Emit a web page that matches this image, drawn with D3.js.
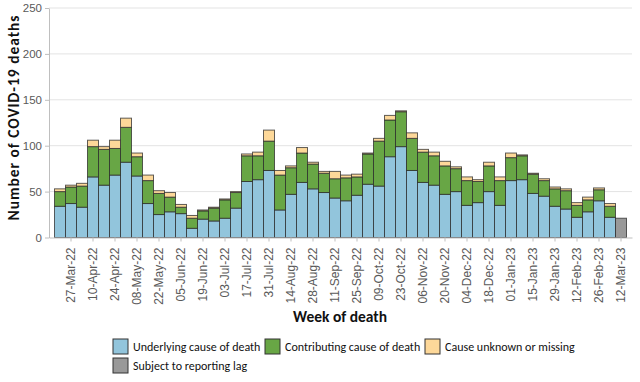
<!DOCTYPE html>
<html>
<head>
<meta charset="utf-8">
<script src="https://d3js.org/d3.v7.min.js"></script>
<style>
  body { margin: 0; background: #fff; }
  svg { font-family: Carlito, Calibri, Lato, sans-serif; }
</style>
</head>
<body>
<svg id="chart" width="640" height="382"></svg>
<script>
var weeks = ["20-Mar-22","27-Mar-22","03-Apr-22","10-Apr-22","17-Apr-22","24-Apr-22","01-May-22","08-May-22",
  "15-May-22","22-May-22","29-May-22","05-Jun-22","12-Jun-22","19-Jun-22","26-Jun-22","03-Jul-22","10-Jul-22",
  "17-Jul-22","24-Jul-22","31-Jul-22","07-Aug-22","14-Aug-22","21-Aug-22","28-Aug-22","04-Sep-22","11-Sep-22",
  "18-Sep-22","25-Sep-22","02-Oct-22","09-Oct-22","16-Oct-22","23-Oct-22","30-Oct-22","06-Nov-22","13-Nov-22",
  "20-Nov-22","27-Nov-22","04-Dec-22","11-Dec-22","18-Dec-22","25-Dec-22","01-Jan-23","08-Jan-23","15-Jan-23",
  "22-Jan-23","29-Jan-23","05-Feb-23","12-Feb-23","19-Feb-23","26-Feb-23","05-Mar-23","12-Mar-23"];

var underlying = [34,37,33,66,57,68,82,67,37,25,28,26,10,20,18,21,32,61,63,73,30,47,60,53,49,43,
  40,46,58,56,88,99,73,60,57,47,50,35,38,50,35,62,63,48,45,34,31,22,28,40,22,0];
var contributing = [16,18,23,33,39,29,38,21,25,23,16,7,11,9,14,20,17,28,26,32,38,29,32,27,21,21,
  25,20,33,49,40,38,35,33,32,31,25,27,23,28,27,25,26,21,17,19,20,13,13,12,12,0];
var unknown = [3,2,3,7,3,9,10,4,6,3,5,3,3,1,1,1,1,2,4,12,5,2,6,2,2,8,
  3,3,1,3,5,1,6,3,4,5,2,4,2,4,4,5,1,1,2,2,2,3,3,2,3,0];
var lag = [0,0,0,0,0,0,0,0,0,0,0,0,0,0,0,0,0,0,0,0,0,0,0,0,0,0,
  0,0,0,0,0,0,0,0,0,0,0,0,0,0,0,0,0,0,0,0,0,0,0,0,0,21];

var yTicks = [0, 50, 100, 150, 200, 250];
var keys = ["underlying", "contributing", "unknown", "lag"];
var labels = ["Underlying cause of death", "Contributing cause of death", "Cause unknown or missing", "Subject to reporting lag"];
var colors = ["#92c5dc", "#68a645", "#fdd899", "#999999"];

(function() {
  var rows = weeks.map(function(w, i) {
    return { week: w, underlying: underlying[i], contributing: contributing[i], unknown: unknown[i], lag: lag[i] };
  });

  var svg = d3.select("#chart");
  var left = 49, right = 632, plotTop = 8, bottom = 237.5;

  var x = d3.scaleBand().domain(weeks).range([left, right]).paddingInner(0).paddingOuter(0.5);
  var y = d3.scaleLinear().domain([0, 250]).range([bottom, plotTop]);

  // gridlines
  svg.append("g").selectAll("line")
    .data(yTicks.slice(1))
    .enter().append("line")
    .attr("x1", left).attr("x2", right)
    .attr("y1", function(d) { return y(d); })
    .attr("y2", function(d) { return y(d); })
    .attr("stroke", "#e3e3e3").attr("stroke-width", 1);

  // y axis
  var yAxis = svg.append("g")
    .attr("transform", "translate(" + left + ",0)")
    .call(d3.axisLeft(y).tickValues(yTicks).tickSize(4).tickSizeOuter(0).tickPadding(3));
  yAxis.select(".domain").attr("stroke", "#bfbfbf");
  yAxis.selectAll(".tick line").attr("stroke", "#bfbfbf");
  yAxis.selectAll("text").attr("fill", "#595959").style("font-size", "11.5px");

  // stacked bars
  var series = d3.stack().keys(keys)(rows);
  svg.append("g").selectAll("g")
    .data(series)
    .enter().append("g")
    .attr("fill", function(d, i) { return colors[i]; })
    .selectAll("rect")
    .data(function(d) { return d.filter(function(p) { return p[1] - p[0] > 0; }); })
    .enter().append("rect")
    .attr("x", function(d) { return x(d.data.week); })
    .attr("width", x.bandwidth())
    .attr("y", function(d) { return y(d[1]); })
    .attr("height", function(d) { return y(d[0]) - y(d[1]); })
    .attr("stroke", "#2b2b2b").attr("stroke-opacity", 0.75).attr("stroke-width", 1);

  // x axis
  var xAxis = svg.append("g")
    .attr("transform", "translate(0," + bottom + ")")
    .call(d3.axisBottom(x)
      .tickValues(weeks.filter(function(d, i) { return i % 2 === 1; }))
      .tickSize(4).tickSizeOuter(0).tickPadding(6));
  xAxis.select(".domain").attr("stroke", "#bfbfbf");
  xAxis.selectAll(".tick line").attr("stroke", "#bfbfbf");
  xAxis.selectAll("text")
    .attr("fill", "#595959").style("font-size", "12px")
    .attr("text-anchor", "end")
    .attr("transform", "rotate(-90)")
    .attr("x", -10).attr("y", 0).attr("dy", "0.35em");

  // axis titles
  svg.append("text")
    .attr("transform", "translate(19,118) rotate(-90)")
    .attr("text-anchor", "middle")
    .attr("font-weight", "bold").attr("font-size", "15.5px").attr("fill", "#111")
    .attr("textLength", 205).attr("lengthAdjust", "spacing")
    .text("Number of COVID-19 deaths");

  svg.append("text")
    .attr("x", 340).attr("y", 322)
    .attr("text-anchor", "middle")
    .attr("font-weight", "bold").attr("font-size", "15.5px").attr("fill", "#111")
    .text("Week of death");

  // legend
  var legendPos = [[113, 339], [265, 339], [425, 339], [113, 358]];
  var legend = svg.append("g").selectAll("g")
    .data(labels)
    .enter().append("g")
    .attr("transform", function(d, i) { return "translate(" + legendPos[i][0] + "," + legendPos[i][1] + ")"; });
  legend.append("rect")
    .attr("width", 15).attr("height", 15)
    .attr("fill", function(d, i) { return colors[i]; })
    .attr("stroke", "#333").attr("stroke-width", 1);
  legend.append("text")
    .attr("x", 20).attr("y", 12)
    .attr("font-size", "12px").attr("fill", "#111")
    .text(function(d) { return d; });
})();
</script>
</body>
</html>
